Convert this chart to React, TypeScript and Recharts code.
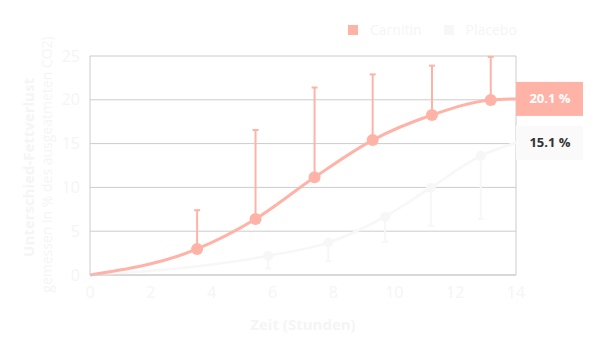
import React from "react";
import {
  CartesianGrid,
  ErrorBar,
  Line,
  LineChart,
  ReferenceDot,
  ReferenceLine,
  XAxis,
  YAxis,
} from "recharts";

const CARNITIN = "#ffb3a7";
const PLACEBO = "#f7f7f7";
const FAINT = "#f5f5f5";
const GRID = "#cccccc";
const FONT = "'Open Sans', sans-serif";

// measured points (hours, % difference, upper/lower error)
const carnitinHours = [3.52, 5.44, 7.38, 9.29, 11.24, 13.17];
const carnitinValues = [2.97, 6.39, 11.15, 15.4, 18.26, 19.98];
const carnitinErrUp = [4.43, 10.16, 10.25, 7.5, 5.64, 4.92];

const placeboHours = [5.86, 7.83, 9.7, 11.2, 12.84];
const placeboValues = [2.2, 3.7, 6.66, 9.97, 13.6];
const placeboErrDown = [1.44, 2.1, 2.86, 4.37, 7.2];

// curve end values at 14 h
const endHour = 14;
const carnitinEnd = 20.1;
const placeboEnd = 15.1;

const xTicks = [0, 2, 4, 6, 8, 10, 12, 14];
const yTicks = [0, 5, 10, 15, 20, 25];

const carnitinPoints = carnitinHours.map((h, i) => ({
  h,
  v: carnitinValues[i],
  err: [0, carnitinErrUp[i]],
}));
const placeboPoints = placeboHours.map((h, i) => ({
  h,
  v: placeboValues[i],
  err: [placeboErrDown[i], 0],
}));
const carnitinCurve = [
  { h: 0, v: 0 },
  ...carnitinPoints.map(({ h, v }) => ({ h, v })),
  { h: endHour, v: carnitinEnd },
];
const placeboCurve = [
  { h: 0, v: 0 },
  ...placeboPoints.map(({ h, v }) => ({ h, v })),
  { h: endHour, v: placeboEnd },
];

function EndLabel({ cx, cy, fill, color, text }: any) {
  return (
    <g>
      <rect x={cx} y={cy - 17} width={67} height={34} fill={fill} />
      <text
        x={cx + 34}
        y={cy}
        dy="0.35em"
        textAnchor="middle"
        fontFamily={FONT}
        fontSize={13}
        fontWeight={700}
        fill={color}
      >
        {text}
      </text>
    </g>
  );
}

function YTitle({ viewBox }: any) {
  const cy = viewBox.y + viewBox.height / 2;
  return (
    <g fontFamily={FONT}>
      <text
        x={29}
        y={cy + 2}
        transform={`rotate(-90 29 ${cy + 2})`}
        textAnchor="middle"
        dy="0.35em"
        fontSize={15}
        fontWeight={700}
        fill={FAINT}
      >
        Unterschied-Fettverlust
      </text>
      <text
        x={47}
        y={cy - 1}
        transform={`rotate(-90 47 ${cy - 1})`}
        textAnchor="middle"
        dy="0.35em"
        fontSize={14}
        fill={FAINT}
      >
        gemessen in % des ausgeatmeten CO2)
      </text>
    </g>
  );
}

function LegendBox() {
  const item = (color: string, name: string) => (
    <div style={{ display: "flex", alignItems: "center", marginRight: 22 }}>
      <div style={{ width: 10, height: 10, background: color, marginRight: 12 }} />
      <span style={{ color: FAINT, fontSize: 14, fontFamily: FONT }}>{name}</span>
    </div>
  );
  return (
    <div style={{ position: "absolute", left: 348, top: 20, display: "flex" }}>
      {item(CARNITIN, "Carnitin")}
      {item(PLACEBO, "Placebo")}
    </div>
  );
}

export default function App() {
  return (
    <div style={{ position: "absolute", left: 0, top: 0, width: 609, height: 356, background: "#fff" }}>
      <LineChart
        width={609}
        height={356}
        margin={{ top: 56, right: 93, bottom: 51, left: 0 }}
      >
        <CartesianGrid stroke={GRID} vertical={false} />
        <XAxis
          dataKey="h"
          type="number"
          domain={[0, 14]}
          ticks={xTicks}
          allowDuplicatedCategory={false}
          tickLine={false}
          axisLine={{ stroke: GRID }}
          tickMargin={6}
          height={30}
          tick={{ fontSize: 16, fill: FAINT, fontFamily: FONT }}
          label={{
            value: "Zeit (Stunden)",
            position: "insideBottom",
            offset: -25,
            style: { fontSize: 15, fontWeight: 700, fill: FAINT, fontFamily: FONT },
          }}
        />
        <YAxis
          type="number"
          domain={[0, 25]}
          ticks={yTicks}
          width={90}
          tickLine={false}
          axisLine={{ stroke: GRID }}
          tickMargin={4}
          tick={{ fontSize: 16, fill: FAINT, fontFamily: FONT }}
          label={{ content: YTitle }}
        />
        <ReferenceLine x={14} stroke={GRID} />
        <Line
          data={placeboCurve}
          dataKey="v"
          type="monotone"
          stroke={PLACEBO}
          strokeWidth={2.5}
          dot={false}
          activeDot={false}
          isAnimationActive={false}
        />
        <Line
          data={placeboPoints}
          dataKey="v"
          stroke="none"
          dot={{ r: 5, fill: PLACEBO, stroke: "none" }}
          activeDot={false}
          isAnimationActive={false}
        >
          <ErrorBar dataKey="err" direction="y" width={3} stroke={PLACEBO} strokeWidth={2} />
        </Line>
        <Line
          data={carnitinCurve}
          dataKey="v"
          type="monotone"
          stroke={CARNITIN}
          strokeWidth={3}
          dot={false}
          activeDot={false}
          isAnimationActive={false}
        />
        <Line
          data={carnitinPoints}
          dataKey="v"
          stroke="none"
          dot={{ r: 6, fill: CARNITIN, stroke: "none" }}
          activeDot={false}
          isAnimationActive={false}
        >
          <ErrorBar dataKey="err" direction="y" width={3} stroke={CARNITIN} strokeWidth={2} />
        </Line>
        <ReferenceDot
          x={endHour}
          y={carnitinEnd}
          r={0}
          shape={(p: any) => (
            <EndLabel {...p} fill={CARNITIN} color="#ffffff" text={`${carnitinEnd} %`} />
          )}
        />
        <ReferenceDot
          x={endHour}
          y={placeboEnd}
          r={0}
          shape={(p: any) => (
            <EndLabel {...p} fill="#fafafa" color="#333333" text={`${placeboEnd} %`} />
          )}
        />
      </LineChart>
      <LegendBox />
    </div>
  );
}
